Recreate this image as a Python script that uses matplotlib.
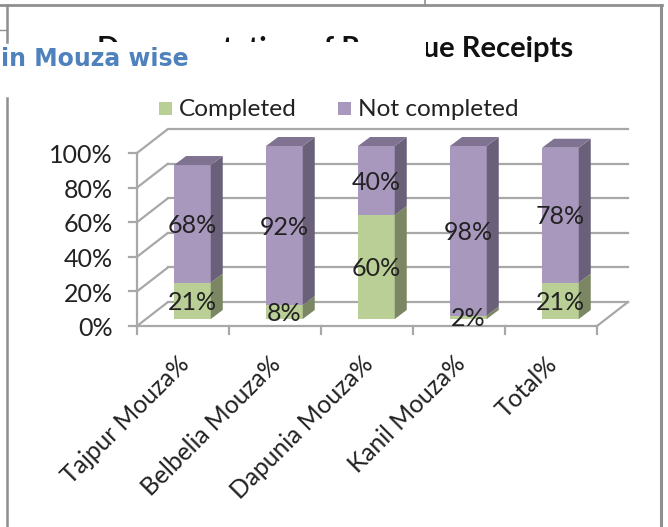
import matplotlib
matplotlib.use("Agg")
import matplotlib.pyplot as plt
from matplotlib.patches import Polygon, Rectangle

categories = ["Tajpur Mouza%", "Belbelia Mouza%", "Dapunia Mouza%", "Kanil Mouza%", "Total%"]
completed = [21, 8, 60, 2, 21]
not_completed = [68, 92, 40, 98, 78]
y_ticks = [0, 20, 40, 60, 80, 100]
title_text = "Documentation of Revenue Receipts"
overlay_text = "in Mouza wise"

W, H = 668, 527
PX_X, PX_Y = 92.0, 1.73
X0, Y0 = 137.0, 326.0

fig = plt.figure(figsize=(W / 100, H / 100), dpi=100)
ax = fig.add_axes([0, 0, 1, 1])
ax.set_xlim((0 - X0) / PX_X, (W - X0) / PX_X)
ax.set_ylim((Y0 - H) / PX_Y, Y0 / PX_Y)
ax.axis("off")

GRID = "#a8a8a8"
GREEN, GREEN_S = "#bacf96", "#7b8763"
PURPLE, PURPLE_S, PURPLE_T = "#a898bd", "#6a6079", "#7f7391"
TXT = "#222222"
FONT = "Lato"

n = len(categories)
wall_dx, wall_dy = 31 / PX_X, 24 / PX_Y
bar_w = 36.7 / PX_X
off_x, off_y = 9.4 / PX_X, 7 / PX_Y
d_x, d_y = 12 / PX_X, 9 / PX_Y

# walls
for v in y_ticks:
    ax.plot([0, wall_dx], [v, v + wall_dy], color=GRID, lw=1.6, zorder=1, solid_capstyle="round")
    ax.plot([wall_dx, n + wall_dx], [v + wall_dy, v + wall_dy], color=GRID, lw=1.6, zorder=1)
    ax.plot([-8 / PX_X, 0], [v, v], color=GRID, lw=1.6, zorder=1)
    ax.text(-24 / PX_X, v - 1.6, f"{v}%", ha="right", va="center", fontsize=18, family=FONT, color=TXT)
ax.plot([0, 0], [0, 100], color=GRID, lw=1.6, zorder=1)
ax.plot([0, n], [0, 0], color=GRID, lw=1.6, zorder=1)
ax.plot([n, n + wall_dx], [0, wall_dy], color=GRID, lw=1.6, zorder=1)
for i in range(n + 1):
    ax.plot([i, i], [0, -8 / PX_Y], color=GRID, lw=1.6, zorder=1)

# bars
for i in range(n):
    left = i + 0.5 - bar_w / 2 + off_x
    right = left + bar_w
    base = off_y
    for vals, col, side in ((completed[i], GREEN, GREEN_S), (not_completed[i], PURPLE, PURPLE_S)):
        ax.bar(left, vals, width=bar_w, bottom=base, align="edge", color=col, lw=0, zorder=3)
        ax.add_patch(Polygon([(right, base), (right + d_x, base + d_y),
                              (right + d_x, base + vals + d_y), (right, base + vals)],
                             closed=True, fc=side, ec="none", zorder=3))
        ax.text((left + right) / 2, base + vals / 2 - 1, f"{vals}%", ha="center", va="center",
                fontsize=18, family=FONT, color=TXT, zorder=5)
        base += vals
    ax.add_patch(Polygon([(left, base), (right, base), (right + d_x, base + d_y), (left + d_x, base + d_y)],
                         closed=True, fc=PURPLE_T, ec="none", zorder=3))
    ax.text(i + 0.5 - 6 / PX_X, -26 / PX_Y, categories[i], rotation=45, rotation_mode="anchor",
            ha="right", va="top", fontsize=17.7, family=FONT, color=TXT)

# legend
for x, col, label in ((159, GREEN, "Completed"), (338, PURPLE, "Not completed")):
    ax.add_patch(Rectangle(((x - X0) / PX_X, (Y0 - 115) / PX_Y), 13 / PX_X, 13 / PX_Y, fc=col, ec="none"))
    ax.text((x + 20 - X0) / PX_X, (Y0 - 109) / PX_Y, label, ha="left", va="center",
            fontsize=17.6, family=FONT, color=TXT)

# title and the page pieces in front of it
ax.text((335 - X0) / PX_X, (Y0 - 49) / PX_Y, title_text, ha="center", va="center",
        fontsize=21, family=FONT, fontweight="bold", color="#111111", zorder=6)
ax.add_patch(Rectangle(((0 - X0) / PX_X, (Y0 - 98) / PX_Y), 426 / PX_X, 56 / PX_Y, fc="white", ec="none", zorder=7))
ax.text((1 - X0) / PX_X, (Y0 - 59) / PX_Y, overlay_text, ha="left", va="center", fontsize=17,
        family="DejaVu Sans", fontweight="bold", color="#4f81bd", zorder=8)

# page frame
frame = "#8f8f8f"
for xs, ys, lw in (((0, 662), (5, 5), 2), ((661, 661), (5, 527), 2.2), ((6.5, 6.5), (5, 42), 1.8),
                   ((6.5, 6.5), (98, 527), 1.8), ((425, 425), (0, 5), 1.2), ((0, 6.5), (30, 30), 1)):
    ax.plot([(x - X0) / PX_X for x in xs], [(Y0 - y) / PX_Y for y in ys], color=frame, lw=lw, zorder=9)

fig.savefig("out.png", dpi=100)
